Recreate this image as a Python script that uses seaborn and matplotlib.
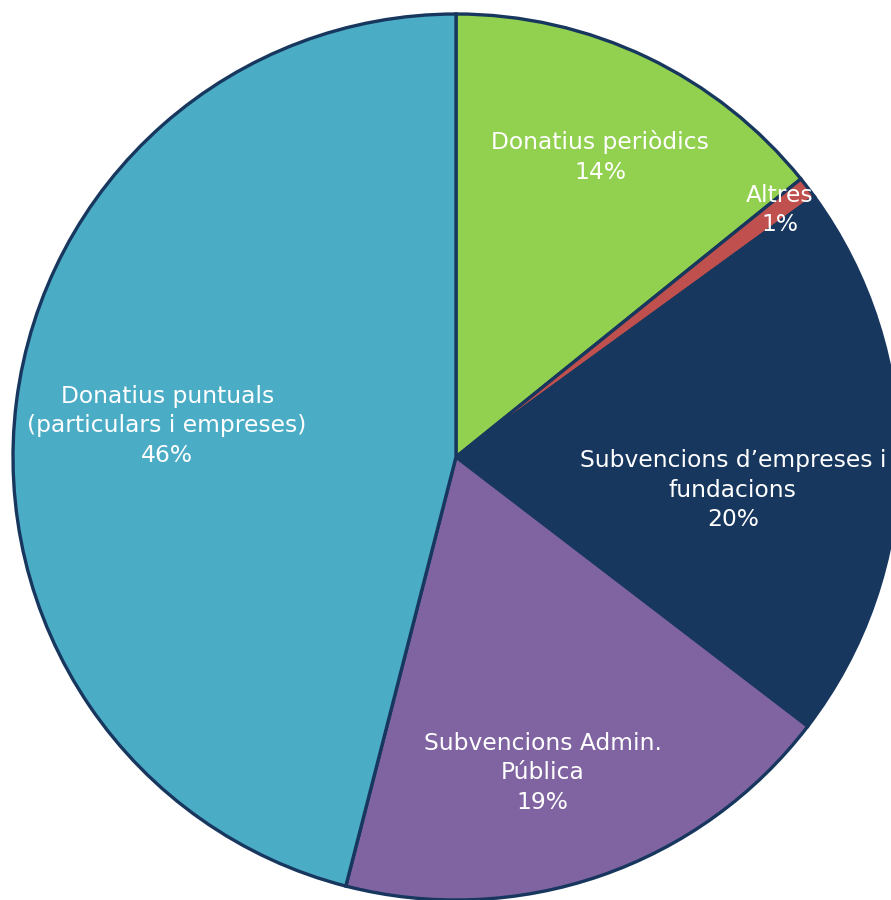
import numpy as np
import matplotlib
matplotlib.use("Agg")
import matplotlib.pyplot as plt
import seaborn as sns

sns.set_theme(style="white")
plt.rcParams["font.family"] = ["DejaVu Sans"]

# Data (clockwise from 12 o'clock), shares
categories = ["Donatius periòdics", "Altres", "Subvencions d\u2019empreses i\nfundacions",
              "Subvencions Admin.\nPública", "Donatius puntuals\n(particulars i empreses)"]
shares = [14.2, 0.8, 20.4, 18.6, 46.0]
colours = ["#92D050", "#C0504D", "#17375E", "#8064A2", "#4BACC6"]

# label centres in data units (radius = 1)
label_pos = [(0.325, 0.677), (0.731, 0.558), (0.625, -0.075), (0.196, -0.713), (-0.652, 0.070)]

W, H = 891, 900
CX, CY, R = 456.0, 457.0, 443.0

fig = plt.figure(figsize=(W / 100, H / 100), dpi=100)
ax = fig.add_axes([0, 0, 1, 1])
ax.pie(shares, colors=colours, startangle=90, counterclock=False, radius=1.0,
       wedgeprops=dict(edgecolor="#17375E", linewidth=2.4))
ax.set_xlim(-CX / R, (W - CX) / R)
ax.set_ylim(-(H - CY) / R, CY / R)
ax.set_aspect("auto")
ax.axis("off")

total = sum(shares)
for cat, val, (x, y) in zip(categories, shares, label_pos):
    ax.text(x, y, f"{cat}\n{100 * val / total:.0f}%", ha="center", va="center",
            color="white", fontsize=16.8, linespacing=1.36)

fig.savefig("out.png", dpi=100, facecolor="white")
